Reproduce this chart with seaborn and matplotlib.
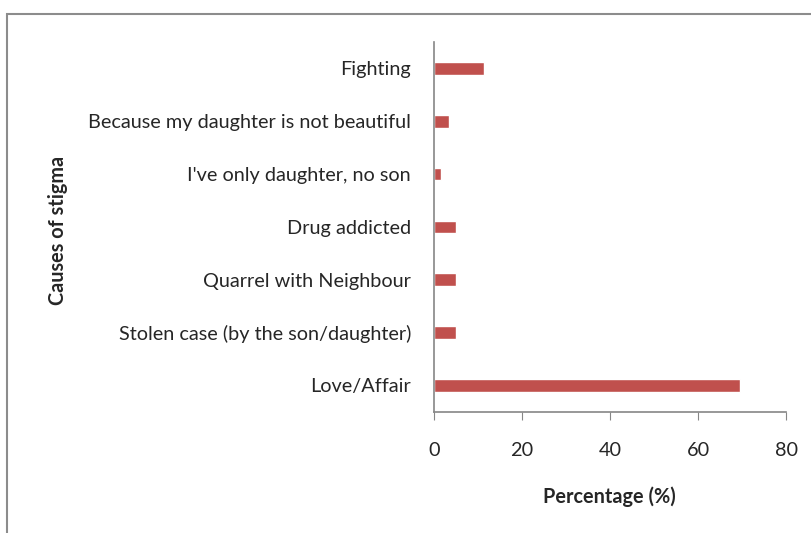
import matplotlib
matplotlib.use('Agg')
import matplotlib.pyplot as plt
import seaborn as sns
import pandas as pd
from matplotlib.patches import Rectangle

# chart data
causes = ['Fighting', 'Because my daughter is not beautiful', "I've only daughter, no son",
          'Drug addicted', 'Quarrel with Neighbour', 'Stolen case (by the son/daughter)',
          'Love/Affair']
percent = [11.4, 3.3, 1.7, 4.9, 4.9, 4.9, 69.6]
x_ticks = [0, 20, 40, 60, 80]

df = pd.DataFrame({'cause': causes, 'percent': percent})

sns.set_style('white')
plt.rcParams['font.family'] = ['Lato', 'DejaVu Sans']
fs = 14.3

fig = plt.figure(figsize=(8.12, 5.33), dpi=100)
ax = fig.add_axes([0.5345, 0.2276, 0.4335, 0.6936])

sns.barplot(data=df, x='percent', y='cause', order=causes, color='#C0504D',
            width=0.24, saturation=1, ax=ax)

ax.set_xlim(0, 80)
ax.set_xticks(x_ticks)
ax.set_ylim(6.5, -0.5)
ax.tick_params(axis='x', which='both', bottom=True, length=5.5, color='#868686',
               labelsize=fs, pad=16)
ax.tick_params(axis='y', left=False, labelsize=fs, pad=13)

for s in ['top', 'right']:
    ax.spines[s].set_visible(False)
for s in ['left', 'bottom']:
    ax.spines[s].set_color('#868686')
    ax.spines[s].set_linewidth(1.2)

ax.set_xlabel('')
ax.set_ylabel('')
fig.text(0.751, 0.069, 'Percentage (%)', ha='center', va='center',
         fontsize=fs, fontweight='bold')
fig.text(0.072, 0.567, 'Causes of stigma', ha='center', va='center',
         rotation=90, fontsize=fs, fontweight='bold')

# outer chart frame (cut off on right and bottom)
fig.patches.append(Rectangle((7 / 812, -0.05), 1.1, 1 - 14 / 533 + 0.05,
                             transform=fig.transFigure, fill=False,
                             edgecolor='#8c8c8c', linewidth=1.5))

fig.savefig('out.png', dpi=100)
